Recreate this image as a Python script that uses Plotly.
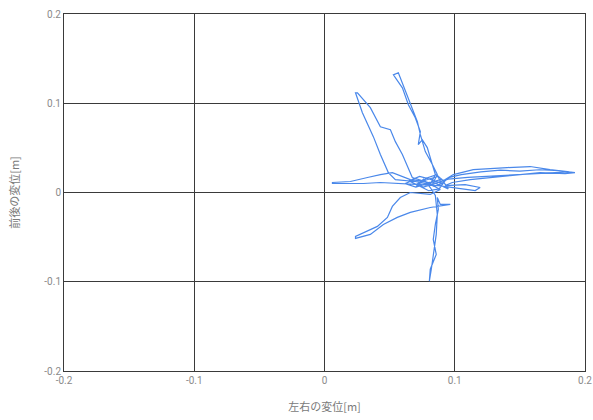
import plotly.graph_objects as go

# Trajectory (left-right displacement, front-back displacement) [m]
x_disp = [
    0.0797, 0.0674, 0.0598, 0.0544, 0.0506, 0.0429, 0.0352, 0.0253, 0.0238, 0.0291,
    0.0375, 0.0429, 0.0490, 0.0544, 0.0697, 0.0812,
    0.0851, 0.0828, 0.0774, 0.0736, 0.0713, 0.0644, 0.0567, 0.0529, 0.0598, 0.0644,
    0.0697, 0.0736, 0.0720, 0.0751, 0.0789, 0.0828, 0.0866, 0.0828,
    0.0927, 0.0989, 0.1142, 0.1402, 0.1579, 0.1732, 0.1923, 0.1847, 0.1655, 0.1425,
    0.1272, 0.1119, 0.0981, 0.0927, 0.1080, 0.1195, 0.1157, 0.1004, 0.0874,
    0.0736, 0.0559, 0.0429, 0.0299, 0.0061, 0.0061, 0.0199, 0.0330, 0.0429, 0.0521,
    0.0559, 0.0659, 0.0774,
    0.0889, 0.0812, 0.0659, 0.0582, 0.0521, 0.0483, 0.0406, 0.0238, 0.0238, 0.0352,
    0.0452, 0.0559, 0.0659, 0.0812, 0.0966, 0.0889, 0.0866,
    0.0874, 0.0851, 0.0835, 0.0858, 0.0812, 0.0805, 0.0820, 0.0835, 0.0858, 0.0866,
    0.0851, 0.0812, 0.0760, 0.0700, 0.0900, 0.0950, 0.0830, 0.0797,
    0.0680, 0.0620, 0.0700, 0.0780, 0.0860, 0.0920, 0.0880, 0.0800, 0.0720, 0.0650,
    0.0730, 0.0810, 0.0900, 0.0960, 0.1050, 0.1200, 0.1350, 0.1500, 0.1650, 0.1800,
    0.1880, 0.1700, 0.1500, 0.1300, 0.1100, 0.0950, 0.0850, 0.0760, 0.0700, 0.0780,
    0.0870, 0.0900, 0.0840, 0.0770, 0.0820,
]
y_disp = [
    0.0112, 0.0168, 0.0425, 0.0570, 0.0704, 0.0737, 0.0950, 0.1117, 0.1117, 0.0894,
    0.0626, 0.0425, 0.0223, 0.0145, 0.0123, 0.0089,
    0.0201, 0.0313, 0.0458, 0.0648, 0.0793, 0.1061, 0.1341, 0.1318, 0.1173, 0.0983,
    0.0838, 0.0682, 0.0536, 0.0592, 0.0503, 0.0313, 0.0201, 0.0089,
    0.0145, 0.0201, 0.0257, 0.0279, 0.0291, 0.0257, 0.0223, 0.0212, 0.0223, 0.0190,
    0.0168, 0.0145, 0.0112, 0.0078, 0.0089, 0.0056, 0.0022, 0.0056, 0.0078,
    0.0089, 0.0101, 0.0112, 0.0101, 0.0101, 0.0112, 0.0123, 0.0168, 0.0201, 0.0223,
    0.0201, 0.0145, 0.0123,
    0.0034, -0.0022, 0.0000, -0.0056, -0.0156, -0.0279, -0.0380, -0.0492, -0.0514, -0.0470,
    -0.0358, -0.0279, -0.0223, -0.0168, -0.0134, -0.0134, -0.0056,
    -0.0190, -0.0358, -0.0525, -0.0693, -0.0860, -0.0994, -0.0860, -0.0693, -0.0469, -0.0246,
    -0.0034, 0.0056, 0.0150, 0.0060, 0.0150, 0.0040, 0.0120, 0.0112,
    0.0140, 0.0100, 0.0060, 0.0160, 0.0200, 0.0120, 0.0040, 0.0020, 0.0080, 0.0130,
    0.0180, 0.0150, 0.0100, 0.0170, 0.0200, 0.0230, 0.0250, 0.0240, 0.0255, 0.0245,
    0.0230, 0.0215, 0.0205, 0.0180, 0.0170, 0.0150, 0.0100, 0.0060, 0.0090, 0.0140,
    0.0180, 0.0100, 0.0070, 0.0120, 0.0100,
]

tick_vals = [-0.2, -0.1, 0, 0.1, 0.2]
tick_text = ["-0.2", "-0.1", "0", "0.1", "0.2"]
x_title = "左右の変位[m]"
y_title = "前後の変位[m]"

fig = go.Figure()
fig.add_trace(go.Scatter(
    x=x_disp, y=y_disp, mode="lines",
    line=dict(color="#4a88ea", width=1.2),
    showlegend=False,
))

axis_common = dict(
    range=[-0.2, 0.2],
    tickvals=tick_vals,
    ticktext=tick_text,
    showgrid=True,
    gridcolor="#3a3a3a",
    gridwidth=1,
    zeroline=False,
    showline=True,
    linecolor="#3a3a3a",
    linewidth=1,
    mirror=True,
    ticks="",
    automargin=False,
    tickfont=dict(family="Roboto, Noto Sans CJK JP", size=10, color="#8a8a8a"),
)

fig.update_layout(
    width=593, height=420,
    margin=dict(l=64, r=8, t=14, b=49),
    paper_bgcolor="white",
    plot_bgcolor="white",
    xaxis=dict(**axis_common,
               title=dict(text=x_title, standoff=18,
                          font=dict(family="Noto Sans CJK JP", size=11, color="#7a7a7a"))),
    yaxis=dict(**axis_common,
               title=dict(text=y_title, standoff=22,
                          font=dict(family="Noto Sans CJK JP", size=11, color="#7a7a7a"))),
)

fig.write_html("out.html")
